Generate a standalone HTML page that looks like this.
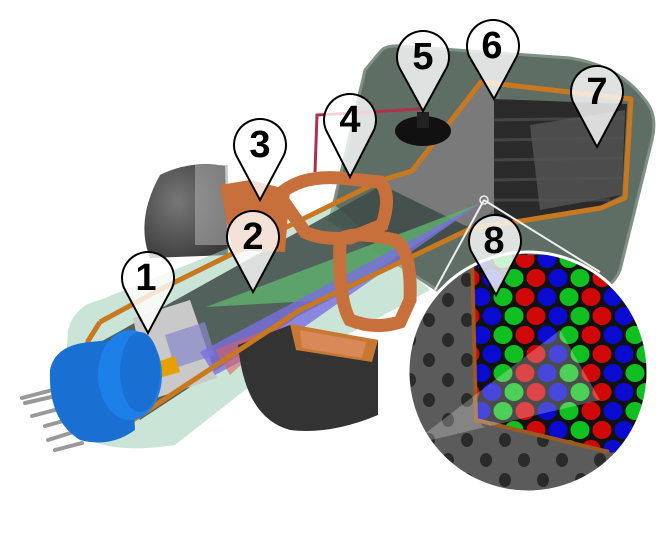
<!DOCTYPE html>
<html><head><meta charset="utf-8"><style>
html,body{margin:0;padding:0;background:#fff;}
svg{display:block;}
text{font-family:"Liberation Sans",sans-serif;font-weight:bold;}
</style></head><body>
<svg width="669" height="533" viewBox="0 0 669 533" xmlns="http://www.w3.org/2000/svg">
<defs>
  <pattern id="rgb" x="470" y="250" width="66" height="38" patternUnits="userSpaceOnUse">
    <rect width="66" height="38" fill="#111"/>
    <ellipse cx="11" cy="9" rx="9.5" ry="9" fill="#0a0ad0"/>
    <ellipse cx="33" cy="9" rx="9.5" ry="9" fill="#10c020"/>
    <ellipse cx="55" cy="9" rx="9.5" ry="9" fill="#d00808"/>
    <ellipse cx="0" cy="28" rx="9.5" ry="9" fill="#d00808"/>
    <ellipse cx="22" cy="28" rx="9.5" ry="9" fill="#0a0ad0"/>
    <ellipse cx="44" cy="28" rx="9.5" ry="9" fill="#10c020"/>
    <ellipse cx="66" cy="28" rx="9.5" ry="9" fill="#d00808"/>
  </pattern>
  <pattern id="holes" x="400" y="250" width="38" height="40" patternUnits="userSpaceOnUse">
    <rect width="38" height="40" fill="#5b5b5b"/>
    <ellipse cx="10" cy="10" rx="6" ry="7" fill="#2a2a2a"/>
    <ellipse cx="29" cy="30" rx="6" ry="7" fill="#2a2a2a"/>
  </pattern>
  <clipPath id="circ"><circle cx="528" cy="372" r="120"/></clipPath>
  <radialGradient id="cyl" cx="0.4" cy="0.4" r="0.7"><stop offset="0" stop-color="#777"/><stop offset="1" stop-color="#3a3a3a"/></radialGradient>
</defs>

<!-- funnel / screen -->
<path d="M380,52 Q385,45 400,46 L570,58 Q620,66 645,100 Q658,115 652,140 L620,270 Q612,290 590,292 L440,292 L330,220 L365,70 Z" fill="#5e6e64" stroke="#7e9184" stroke-width="3"/>
<path d="M383,178 L412,171 L481,82 L500,90 L494,210 L472,225 L385,230 Z" fill="#7a7a7a"/>
<path d="M494,99 L627,104 L622,195 L600,206 L515,222 L494,215 Z" fill="#2a2a2a"/>
<g stroke="#444" stroke-width="3">
<line x1="494" y1="120" x2="625" y2="118"/><line x1="494" y1="140" x2="624" y2="138"/><line x1="494" y1="160" x2="623" y2="158"/><line x1="494" y1="180" x2="622" y2="178"/><line x1="494" y1="200" x2="610" y2="200"/>
</g>
<path d="M530,125 L625,110 L622,195 L540,210 Z" fill="#555" opacity="0.8"/>

<!-- back dark cylinder -->
<path d="M160,175 Q190,160 225,166 L228,255 L150,258 Q135,220 160,175 Z" fill="url(#cyl)"/>
<rect x="195" y="165" width="33" height="80" fill="#aaa" opacity="0.6"/>

<!-- neck tube glass -->
<path d="M68,330 Q75,305 100,300 L335,205 L430,290 L245,390 L175,445 Q110,455 80,435 Q62,400 68,330 Z" fill="#9fcfb6" opacity="0.55"/>
<path d="M95,345 L382,185 L470,228 L300,315 L140,420 Z" fill="#3d4a45" opacity="0.85"/>
<!-- silver gun cylinder -->
<path d="M133,318 L190,300 L217,378 L150,400 Z" fill="#c9c9c9"/>
<path d="M165,335 L205,322 L215,355 L175,368 Z" fill="#8888cc" opacity="0.7"/>
<path d="M148,365 L175,356 L180,372 L152,380 Z" fill="#e8a000"/>

<!-- beams -->
<path d="M206,307 L481,203 L330,300 Z" fill="#5fb36e" opacity="0.8"/>
<path d="M200,352 L481,203 L300,330 L215,375 Z" fill="#7b6fe0" opacity="0.8"/>
<path d="M215,350 L290,320 L230,375 Z" fill="#d86060" opacity="0.6"/>

<!-- lower dark block -->
<path d="M238,345 L290,325 L378,340 L378,415 Q330,435 290,430 Q245,418 238,345 Z" fill="#333"/>
<path d="M290,324 L378,340 L372,362 L296,350 Z" fill="#c87832"/>
<path d="M300,330 L366,342 L362,358 L302,348 Z" fill="#d9885a"/>

<!-- orange cutaway line -->
<path d="M100,322 L88,341 L86,400 Q95,420 133,420 L300,310 L472,228 L515,222 L601,208 L625,198 L631,99 L481,82 L412,171 L382,180 L159,290 L100,322" fill="none" stroke="#c8781e" stroke-width="5" stroke-linejoin="round"/>

<!-- coils -->
<path d="M220,185 L250,180 L290,190 L285,252 L232,250 Z" fill="#c8703c"/>
<path d="M279,195 Q300,175 340,178 L380,182 Q392,195 382,225 L350,238 Q320,240 305,232 Z" fill="none" stroke="#c8703c" stroke-width="13"/>
<path d="M340,240 Q350,230 395,240 Q412,250 410,300 L400,322 Q375,330 350,320 Q338,300 340,240 Z" fill="none" stroke="#c8703c" stroke-width="13"/>

<!-- red wire & anode -->
<path d="M315,172 L317,115 L420,109" fill="none" stroke="#b0304a" stroke-width="3"/>
<ellipse cx="423" cy="131" rx="28" ry="15" fill="#111"/>
<rect x="417" y="112" width="12" height="16" fill="#222"/>

<!-- pins -->
<g stroke="#999" stroke-width="4" stroke-linecap="round">
<line x1="22" y1="398" x2="60" y2="388"/><line x1="25" y1="403" x2="60" y2="395"/><line x1="32" y1="416" x2="70" y2="406"/><line x1="45" y1="426" x2="78" y2="417"/><line x1="48" y1="440" x2="80" y2="430"/><line x1="55" y1="450" x2="82" y2="443"/>
</g>
<!-- socket -->
<path d="M50,370 Q55,345 90,342 L130,338 L135,430 Q110,448 80,440 Q48,420 50,370 Z" fill="#1a6fd2"/>
<ellipse cx="130" cy="375" rx="32" ry="45" fill="#1d7fe8"/>
<ellipse cx="140" cy="372" rx="20" ry="40" fill="#1a6fd2"/>

<!-- magnifier lines -->
<line x1="484" y1="200" x2="435" y2="290" stroke="#eee" stroke-width="2"/>
<line x1="484" y1="200" x2="600" y2="272" stroke="#eee" stroke-width="2"/>
<circle cx="484" cy="200" r="4" fill="none" stroke="#eee" stroke-width="1.5"/>

<!-- magnifier -->
<g clip-path="url(#circ)">
  <rect x="400" y="250" width="260" height="250" fill="url(#holes)"/>
  <path d="M472,255 L660,255 L660,460 L609,452 L476,420 Z" fill="url(#rgb)"/>
  <path d="M472,255 L476,420 L609,452" fill="none" stroke="#9a5a20" stroke-width="4"/>
  <path d="M410,445 L560,330 L600,400 Z" fill="#fff" opacity="0.25"/>
</g>
<circle cx="528" cy="372" r="120" fill="none" stroke="#fff" stroke-width="3"/>

<!-- markers -->
<g fill="#fff" fill-opacity="0.8" stroke="#000" stroke-width="2">
<path d="M148,333 L124,288 A26,26 0 1 1 172,288 Z"/>
<path d="M253,292 L229,247 A26,26 0 1 1 277,247 Z"/>
<path d="M260,200 L236,155 A26,26 0 1 1 284,155 Z"/>
<path d="M350,177 L326,130 A26,26 0 1 1 374,130 Z"/>
<path d="M423,111 L399,67 A26,26 0 1 1 447,67 Z"/>
<path d="M494,99 L469,56 A26,26 0 1 1 517,56 Z"/>
<path d="M597,147 L573,102 A26,26 0 1 1 621,102 Z"/>
<path d="M496,295 L471,251 A26,26 0 1 1 519,251 Z"/>
</g>
<g font-size="38" text-anchor="middle" fill="#000">
<text x="146" y="290">1</text>
<text x="253" y="249">2</text>
<text x="260" y="157">3</text>
<text x="350" y="132">4</text>
<text x="423" y="69">5</text>
<text x="492" y="58">6</text>
<text x="597" y="104">7</text>
<text x="494" y="253">8</text>
</g>
</svg>
</body></html>
